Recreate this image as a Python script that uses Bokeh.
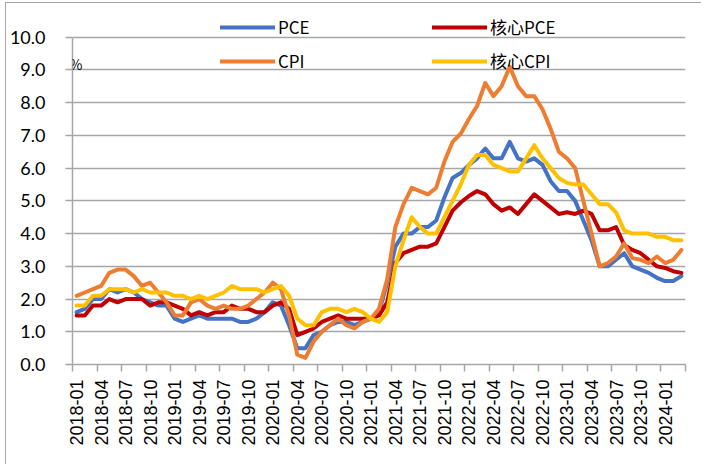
from math import pi
from bokeh.plotting import figure
from bokeh.models import (Range1d, FixedTicker, LinearAxis, Legend, LegendItem,
                          Label, PrintfTickFormatter)
from bokeh.embed import file_html
from bokeh.resources import INLINE

months = [f"{y}-{m:02d}" for y in range(2018, 2025) for m in range(1, 13)][:75]

pce = [1.6, 1.7, 2.0, 2.0, 2.3, 2.2, 2.3, 2.2, 2.0, 1.9, 1.8, 1.8,
       1.4, 1.3, 1.4, 1.5, 1.4, 1.4, 1.4, 1.4, 1.3, 1.3, 1.4, 1.6,
       1.9, 1.8, 1.2, 0.5, 0.5, 0.9, 1.0, 1.2, 1.3, 1.3, 1.2, 1.3,
       1.4, 1.6, 2.5, 3.6, 4.0, 4.0, 4.2, 4.2, 4.4, 5.1, 5.7, 5.85,
       6.1, 6.3, 6.6, 6.3, 6.3, 6.8, 6.3, 6.2, 6.3, 6.1, 5.6, 5.3,
       5.3, 5.0, 4.4, 3.8, 3.0, 3.0, 3.2, 3.4, 3.0, 2.9, 2.8, 2.65,
       2.55, 2.55, 2.7]

core_pce = [1.5, 1.5, 1.8, 1.8, 2.0, 1.9, 2.0, 2.0, 2.0, 1.8, 1.9, 1.9,
            1.8, 1.7, 1.5, 1.6, 1.5, 1.6, 1.6, 1.8, 1.7, 1.7, 1.6, 1.6,
            1.8, 1.9, 1.7, 0.9, 1.0, 1.1, 1.3, 1.4, 1.5, 1.4, 1.4, 1.4,
            1.4, 1.5, 1.9, 3.1, 3.4, 3.5, 3.6, 3.6, 3.7, 4.2, 4.7, 4.95,
            5.15, 5.3, 5.2, 4.9, 4.7, 4.8, 4.6, 4.9, 5.2, 5.0, 4.8, 4.6,
            4.65, 4.6, 4.7, 4.6, 4.1, 4.1, 4.2, 3.65, 3.5, 3.4, 3.2, 3.0,
            2.95, 2.85, 2.8]

cpi = [2.1, 2.2, 2.3, 2.4, 2.8, 2.9, 2.9, 2.7, 2.4, 2.5, 2.2, 1.9,
       1.5, 1.5, 1.9, 2.0, 1.8, 1.7, 1.8, 1.7, 1.7, 1.8, 2.0, 2.2,
       2.5, 2.3, 1.5, 0.3, 0.2, 0.7, 1.0, 1.2, 1.4, 1.2, 1.1, 1.3,
       1.4, 1.7, 2.6, 4.2, 4.9, 5.4, 5.3, 5.2, 5.4, 6.2, 6.8, 7.05,
       7.5, 7.9, 8.6, 8.2, 8.5, 9.1, 8.5, 8.2, 8.2, 7.8, 7.2, 6.5,
       6.3, 6.0, 5.0, 4.0, 3.0, 3.1, 3.3, 3.7, 3.25, 3.2, 3.1, 3.3,
       3.1, 3.2, 3.5]

core_cpi = [1.8, 1.8, 2.1, 2.1, 2.3, 2.3, 2.3, 2.2, 2.3, 2.2, 2.2, 2.2,
            2.1, 2.1, 2.0, 2.1, 2.0, 2.1, 2.2, 2.4, 2.3, 2.3, 2.3, 2.2,
            2.3, 2.4, 2.1, 1.4, 1.2, 1.2, 1.6, 1.7, 1.7, 1.6, 1.7, 1.6,
            1.4, 1.3, 1.6, 3.0, 3.8, 4.5, 4.2, 4.0, 4.0, 4.5, 5.0, 5.5,
            6.1, 6.4, 6.4, 6.1, 6.0, 5.9, 5.9, 6.3, 6.7, 6.3, 6.0, 5.7,
            5.55, 5.5, 5.5, 5.2, 4.9, 4.9, 4.65, 4.1, 4.0, 4.0, 4.0, 3.9,
            3.9, 3.8, 3.8]

y_ticks = [0, 1, 2, 3, 4, 5, 6, 7, 8, 9, 10]
label_step = 3

series_names = ["PCE", "核心PCE", "CPI", "核心CPI"]
series_vals = [pce, core_pce, cpi, core_cpi]
colors = ["#4472C4", "#C00000", "#ED7D31", "#FFC000"]

GRID = "#a6a6a6"
n = len(months)
xs = [i + 0.5 for i in range(n)]
y_top = 11.0   # room above the 10.0 line for the legend

p = figure(frame_width=613, frame_height=360, output_backend="svg",
           toolbar_location=None, x_axis_location=None,
           x_range=Range1d(0, n), y_range=Range1d(0, y_top),
           min_border_left=72, min_border_right=16, min_border_top=4,
           min_border_bottom=100, outline_line_color=None,
           background_fill_color="white", border_fill_color=None)
p.styles = {"box-shadow": "inset 5px 2px 0 0 #ffffff, inset 6px 3px 0 0 #a6a6a6",
            "background-color": "#ffffff"}

# y axis
yax = p.yaxis[0]
yax.ticker = FixedTicker(ticks=y_ticks)
yax.bounds = (0, 10)
yax.formatter = PrintfTickFormatter(format="%.1f")
yax.axis_line_color = GRID
yax.axis_line_width = 1.5
yax.major_tick_line_color = GRID
yax.major_tick_line_width = 1.5
yax.major_tick_out = 7
yax.major_tick_in = 0
yax.minor_tick_line_color = None
yax.major_label_standoff = 20
yax.major_label_text_font = "Lato"
yax.major_label_text_font_size = "18px"
yax.major_label_text_color = "#000000"

p.ygrid.ticker = FixedTicker(ticks=y_ticks)
p.ygrid.grid_line_color = GRID
p.ygrid.grid_line_width = 1.5
p.xgrid.visible = False

# x axis: tick marks at month boundaries
xt = LinearAxis(ticker=FixedTicker(ticks=list(range(0, n + 1, label_step))))
xt.axis_line_color = GRID
xt.axis_line_width = 1.5
xt.major_tick_line_color = GRID
xt.major_tick_line_width = 1.5
xt.major_tick_out = 7
xt.major_tick_in = 0
xt.minor_tick_line_color = None
xt.major_label_text_font_size = "1px"
xt.major_label_text_alpha = 0
xt.major_label_standoff = 0
p.add_layout(xt, "below")

# x axis: labels at month centres
lab_pos = [xs[i] for i in range(0, n, label_step)]
xl = LinearAxis(ticker=FixedTicker(ticks=lab_pos),
                major_label_overrides={xs[i]: months[i] for i in range(0, n, label_step)})
xl.axis_line_color = None
xl.major_tick_line_color = None
xl.major_tick_out = 0
xl.major_tick_in = 0
xl.minor_tick_line_color = None
xl.major_label_orientation = pi / 2
xl.major_label_standoff = 8
xl.major_label_text_font = "Liberation Sans"
xl.major_label_text_font_size = "18px"
xl.major_label_text_color = "#000000"
p.add_layout(xl, "below")

renderers = {}
for name, vals, c in zip(series_names, series_vals, colors):
    renderers[name] = p.line(xs, vals, line_color=c, line_width=4,
                             line_join="round", line_cap="round")

def make_legend(names, loc):
    lg = Legend(items=[LegendItem(label=nm, renderers=[renderers[nm]]) for nm in names],
                location=loc, orientation="vertical",
                glyph_width=55, glyph_height=20, label_height=20,
                label_standoff=3, spacing=9, padding=0, margin=0,
                border_line_color=None, background_fill_alpha=0,
                label_text_font="Noto Sans CJK SC", label_text_font_size="17px",
                label_text_color="#000000")
    return lg

p.add_layout(make_legend(["PCE", "CPI"], (148, 291)), "center")
p.add_layout(make_legend(["核心PCE", "核心CPI"], (360, 291)), "center")

p.add_layout(Label(x=-3, y=301, x_units="screen", y_units="screen", text="%",
                   text_font="Noto Sans CJK SC", text_font_size="14px",
                   text_baseline="middle", text_color="#000000"))

open("out.html", "w").write(file_html(p, INLINE))
